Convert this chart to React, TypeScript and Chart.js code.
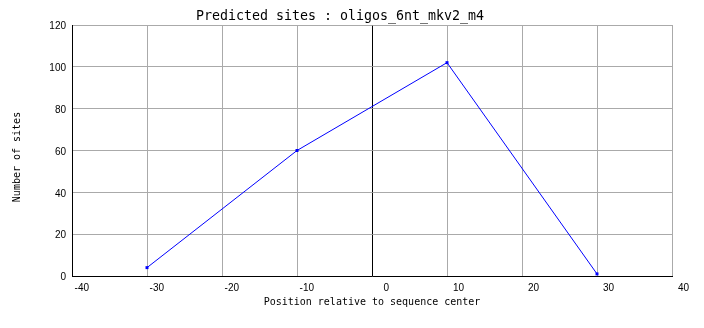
import React, { useEffect, useRef } from "react";
import { Chart, registerables } from "chart.js";

Chart.register(...registerables);

const chartTitle = "Predicted sites : oligos_6nt_mkv2_m4";
const xAxisTitle = "Position relative to sequence center";
const yAxisTitle = "Number of sites";
const positions = [-30, -10, 10, 30];
const siteCounts = [4, 60, 102, 1];
const xRange = [-40, 40];
const yRange = [0, 120];

const yTitlePlugin = {
  id: "yTitleShifted",
  afterDraw(chart: any) {
    const { ctx, chartArea } = chart;
    ctx.save();
    ctx.font = "10px 'DejaVu Sans Mono'";
    ctx.fillStyle = "#000000";
    ctx.textAlign = "center";
    ctx.textBaseline = "middle";
    ctx.translate(9.7, (chartArea.top + chartArea.bottom) / 2 + 6.5);
    ctx.rotate(-Math.PI / 2);
    ctx.fillText(yAxisTitle, 0, 0);
    ctx.restore();
  },
};

export default function App() {
  const ref = useRef<HTMLCanvasElement | null>(null);

  useEffect(() => {
    if (!ref.current) return;
    const gridGray = "#aaaaaa";
    const chart = new Chart(ref.current, {
      type: "line",
      data: {
        datasets: [
          {
            data: positions.map((x, i) => ({ x, y: siteCounts[i] })),
            borderColor: "#0000ff",
            backgroundColor: "#0000ff",
            borderWidth: 1,
            pointStyle: "rect",
            pointRadius: 2.1,
            pointBorderWidth: 0,
            tension: 0,
            fill: false,
          },
        ],
      },
      plugins: [yTitlePlugin],
      options: {
        animation: false,
        responsive: false,
        devicePixelRatio: 1,
        layout: { padding: { left: 0, right: 24, top: 0, bottom: 0 } },
        plugins: {
          legend: { display: false },
          tooltip: { enabled: false },
          title: {
            display: true,
            text: chartTitle,
            color: "#000000",
            font: { family: "'DejaVu Sans Mono'", size: 13.3, weight: "normal", lineHeight: 1 },
            padding: { top: 1.5, bottom: 2.2 },
          },
        },
        scales: {
          x: {
            type: "linear",
            min: xRange[0],
            max: xRange[1],
            afterFit: (scale: any) => {
              scale.height = 44;
            },
            ticks: {
              stepSize: 10,
              align: "end",
              labelOffset: 17,
              padding: 6,
              color: "#000000",
              maxRotation: 0,
              autoSkip: false,
              font: { family: "'Liberation Sans'", size: 10 },
            },
            grid: {
              drawTicks: false,
              color: (ctx: any) => (ctx.tick && ctx.tick.value === 0 ? "#000000" : gridGray),
              lineWidth: 1,
            },
            border: { display: true, color: "#000000", width: 1 },
            title: {
              display: true,
              text: xAxisTitle,
              color: "#000000",
              font: { family: "'DejaVu Sans Mono'", size: 10, lineHeight: 1.2 },
              padding: { top: 0, bottom: 11.5 },
            },
          },
          y: {
            min: yRange[0],
            max: yRange[1],
            afterFit: (scale: any) => {
              scale.width = 64;
            },
            ticks: {
              stepSize: 20,
              padding: 6,
              labelOffset: 1.5,
              color: "#000000",
              font: { family: "'Liberation Sans'", size: 10 },
            },
            grid: {
              drawTicks: false,
              color: gridGray,
              lineWidth: 1,
            },
            border: { display: true, color: "#000000", width: 1 },
            title: { display: false },
          },
        },
      },
    });
    return () => chart.destroy();
  }, []);

  return (
    <div style={{ width: 688, height: 312 }}>
      <canvas ref={ref} width={688} height={312} style={{ display: "block" }} />
    </div>
  );
}
